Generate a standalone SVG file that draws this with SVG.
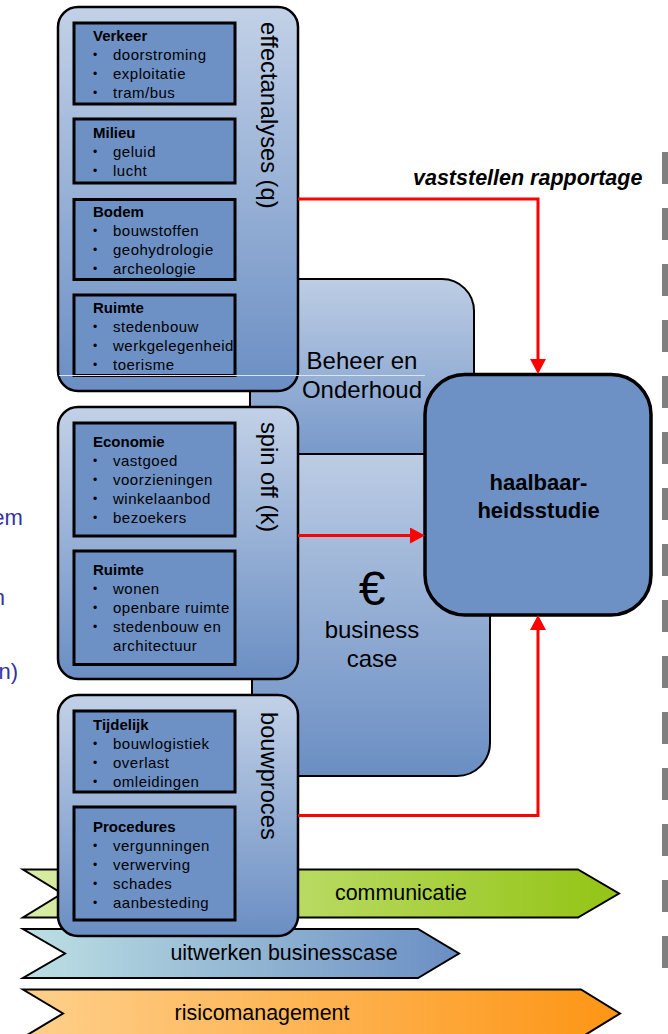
<svg xmlns="http://www.w3.org/2000/svg" width="668" height="1034" viewBox="0 0 668 1034">
  <defs>
    <linearGradient id="gGroup" x1="0" y1="0" x2="0" y2="1">
      <stop offset="0" stop-color="#c2d1e7"/>
      <stop offset="1" stop-color="#6a8ec3"/>
    </linearGradient>
    <linearGradient id="gBeheer" x1="0" y1="0" x2="0" y2="1">
      <stop offset="0" stop-color="#bdcde4"/>
      <stop offset="1" stop-color="#7899ca"/>
    </linearGradient>
    <linearGradient id="gCase" x1="0" y1="0" x2="0" y2="1">
      <stop offset="0" stop-color="#bccce4"/>
      <stop offset="1" stop-color="#6a8ec3"/>
    </linearGradient>
    <linearGradient id="gComm" x1="0" y1="0" x2="1" y2="0">
      <stop offset="0" stop-color="#d9eda6"/>
      <stop offset="1" stop-color="#93c414"/>
    </linearGradient>
    <linearGradient id="gBiz" x1="0" y1="0" x2="1" y2="0">
      <stop offset="0" stop-color="#bde0e4"/>
      <stop offset="1" stop-color="#6a8ec3"/>
    </linearGradient>
    <linearGradient id="gRisk" x1="0" y1="0" x2="1" y2="0">
      <stop offset="0" stop-color="#fed08c"/>
      <stop offset="1" stop-color="#fd9514"/>
    </linearGradient>
    <marker id="arrow" viewBox="0 -8 15 16" refX="0" refY="0" markerWidth="15" markerHeight="16" markerUnits="userSpaceOnUse" orient="auto">
      <path d="M0,-8 L15,0 L0,8 Z" fill="#ff0000"/>
    </marker>
  </defs>
  <style>
    text { font-family: "Liberation Sans", Arial, sans-serif; fill: #000; }
    .group { fill: url(#gGroup); stroke: #000; stroke-width: 2.5; }
    .inner { fill: #6d91c5; stroke: #000; stroke-width: 3; }
    .ttl { font-size: 15px; font-weight: bold; }
    .item { font-size: 15px; letter-spacing: 0.5px; }
    .bul { font-size: 12px; }
    .vlabel { font-size: 23.7px; }
    .big { font-size: 24px; text-anchor: middle; }
    .band { stroke: #000; stroke-width: 2; }
    .bandtxt { font-size: 21.4px; text-anchor: middle; }
    .side { font-size: 22px; fill: #3333a0; text-anchor: end; }
    .link { fill: none; stroke: #ff0000; stroke-width: 3; marker-end: url(#arrow); }
  </style>

  <!-- clipped text at the left margin -->
  <text class="side" x="22.7" y="525">em</text>
  <text class="side" x="5" y="605">n</text>
  <text class="side" x="18" y="679">n)</text>

  <!-- vertical dashed divider -->
  <line x1="666" y1="152" x2="666" y2="968" stroke="#808080" stroke-width="8" stroke-dasharray="32 24"/>

  <!-- process bands -->
  <g id="communicatie">
    <path class="band" fill="url(#gComm)" d="M23,869.5 L578,869.5 L619,893.5 L578,917.5 L23,917.5 L62,893.5 Z"/>
    <text class="bandtxt" x="401" y="900">communicatie</text>
  </g>
  <g id="uitwerken-businesscase">
    <path class="band" fill="url(#gBiz)" d="M23,929 L418,929 L459,953.5 L418,978 L23,978 L65,953.5 Z"/>
    <text class="bandtxt" x="284" y="960">uitwerken businesscase</text>
  </g>
  <g id="risicomanagement">
    <path class="band" fill="url(#gRisk)" d="M23,989.5 L581,989.5 L620,1013.5 L581,1037.5 L23,1037.5 L63,1013.5 Z"/>
    <text class="bandtxt" x="262" y="1020">risicomanagement</text>
  </g>

  <!-- background blocks -->
  <g id="beheer-onderhoud">
    <rect x="250" y="279" width="224" height="175" rx="32" fill="url(#gBeheer)" stroke="#000" stroke-width="2"/>
    <text class="big" x="362" y="369">Beheer en</text>
    <text class="big" x="362" y="398">Onderhoud</text>
  </g>
  <g id="business-case">
    <rect x="252" y="454" width="238" height="322" rx="33" fill="url(#gCase)" stroke="#000" stroke-width="2"/>
    <text x="372" y="605" font-size="48" text-anchor="middle">€</text>
    <text class="big" x="372" y="638">business</text>
    <text class="big" x="372" y="667">case</text>
  </g>

  <!-- effect analyses -->
  <g id="effectanalyses">
    <rect class="group" x="58" y="7" width="240" height="384" rx="20"/>
    <text class="vlabel" transform="translate(261,22) rotate(90)">effectanalyses (q)</text>
    <rect class="inner" x="74" y="23" width="161" height="81"/>
    <text class="ttl" x="93" y="41">Verkeer</text>
    <text class="bul" x="93" y="59">•</text><text class="item" x="113" y="60">doorstroming</text>
    <text class="bul" x="93" y="78">•</text><text class="item" x="113" y="79">exploitatie</text>
    <text class="bul" x="93" y="97">•</text><text class="item" x="113" y="98">tram/bus</text>

    <rect class="inner" x="74" y="119" width="161" height="64"/>
    <text class="ttl" x="93" y="138">Milieu</text>
    <text class="bul" x="93" y="156">•</text><text class="item" x="113" y="157">geluid</text>
    <text class="bul" x="93" y="175">•</text><text class="item" x="113" y="176">lucht</text>

    <rect class="inner" x="74" y="199.5" width="161" height="80"/>
    <text class="ttl" x="93" y="217">Bodem</text>
    <text class="bul" x="93" y="235">•</text><text class="item" x="113" y="236">bouwstoffen</text>
    <text class="bul" x="93" y="254">•</text><text class="item" x="113" y="255">geohydrologie</text>
    <text class="bul" x="93" y="273">•</text><text class="item" x="113" y="274">archeologie</text>

    <rect class="inner" x="74" y="295" width="161" height="80.5"/>
    <text class="ttl" x="93" y="312.5">Ruimte</text>
    <text class="bul" x="93" y="330.5">•</text><text class="item" x="113" y="331.5">stedenbouw</text>
    <text class="bul" x="93" y="349.5">•</text><text class="item" x="113" y="350.5">werkgelegenheid</text>
    <text class="bul" x="93" y="368.5">•</text><text class="item" x="113" y="369.5">toerisme</text>
  </g>

  <!-- spin off -->
  <g id="spin-off">
    <rect class="group" x="58" y="407" width="240" height="272" rx="20"/>
    <text class="vlabel" transform="translate(261,422) rotate(90)">spin off (k)</text>
    <rect class="inner" x="74" y="423" width="161" height="113"/>
    <text class="ttl" x="93" y="446.5">Economie</text>
    <text class="bul" x="93" y="465">•</text><text class="item" x="113" y="466">vastgoed</text>
    <text class="bul" x="93" y="484">•</text><text class="item" x="113" y="485">voorzieningen</text>
    <text class="bul" x="93" y="503">•</text><text class="item" x="113" y="504">winkelaanbod</text>
    <text class="bul" x="93" y="522">•</text><text class="item" x="113" y="523">bezoekers</text>

    <rect class="inner" x="74" y="551" width="161" height="113.5"/>
    <text class="ttl" x="93" y="575">Ruimte</text>
    <text class="bul" x="93" y="593">•</text><text class="item" x="113" y="594">wonen</text>
    <text class="bul" x="93" y="612">•</text><text class="item" x="113" y="613">openbare ruimte</text>
    <text class="bul" x="93" y="631">•</text><text class="item" x="113" y="632">stedenbouw en</text>
    <text class="item" x="113" y="651">architectuur</text>
  </g>

  <!-- construction process -->
  <g id="bouwproces">
    <rect class="group" x="58" y="695" width="240" height="241" rx="20"/>
    <text class="vlabel" transform="translate(261,712) rotate(90)">bouwproces</text>
    <rect class="inner" x="74" y="711" width="161" height="81"/>
    <text class="ttl" x="93" y="729.5">Tijdelijk</text>
    <text class="bul" x="93" y="747.5">•</text><text class="item" x="113" y="748.5">bouwlogistiek</text>
    <text class="bul" x="93" y="766.5">•</text><text class="item" x="113" y="767.5">overlast</text>
    <text class="bul" x="93" y="785.5">•</text><text class="item" x="113" y="786.5">omleidingen</text>

    <rect class="inner" x="74" y="807" width="161" height="113"/>
    <text class="ttl" x="93" y="831.5">Procedures</text>
    <text class="bul" x="93" y="849.5">•</text><text class="item" x="113" y="850.5">vergunningen</text>
    <text class="bul" x="93" y="868.5">•</text><text class="item" x="113" y="869.5">verwerving</text>
    <text class="bul" x="93" y="887.5">•</text><text class="item" x="113" y="888.5">schades</text>
    <text class="bul" x="93" y="906.5">•</text><text class="item" x="113" y="907.5">aanbesteding</text>
  </g>

  <!-- thin light seam across the upper blocks -->
  <line x1="59" y1="375.5" x2="425" y2="375.5" stroke="#dbe4f1" stroke-width="1"/>

  <!-- feasibility study -->
  <g id="haalbaarheidsstudie">
    <rect x="425" y="374.5" width="226" height="240.5" rx="40" fill="#6d91c5" stroke="#000" stroke-width="3.5"/>
    <text x="538.5" y="490" font-size="22" font-weight="bold" text-anchor="middle">haalbaar-</text>
    <text x="538.5" y="518" font-size="22" font-weight="bold" text-anchor="middle">heidsstudie</text>
  </g>

  <!-- connectors -->
  <g id="connectors">
    <path class="link" d="M298,199 H538 V359"/>
    <path class="link" d="M298,535.5 H410"/>
    <path class="link" d="M298,815.5 H538 V630"/>
    <text x="413" y="185" font-size="21.5" font-weight="bold" font-style="italic">vaststellen rapportage</text>
  </g>
</svg>
